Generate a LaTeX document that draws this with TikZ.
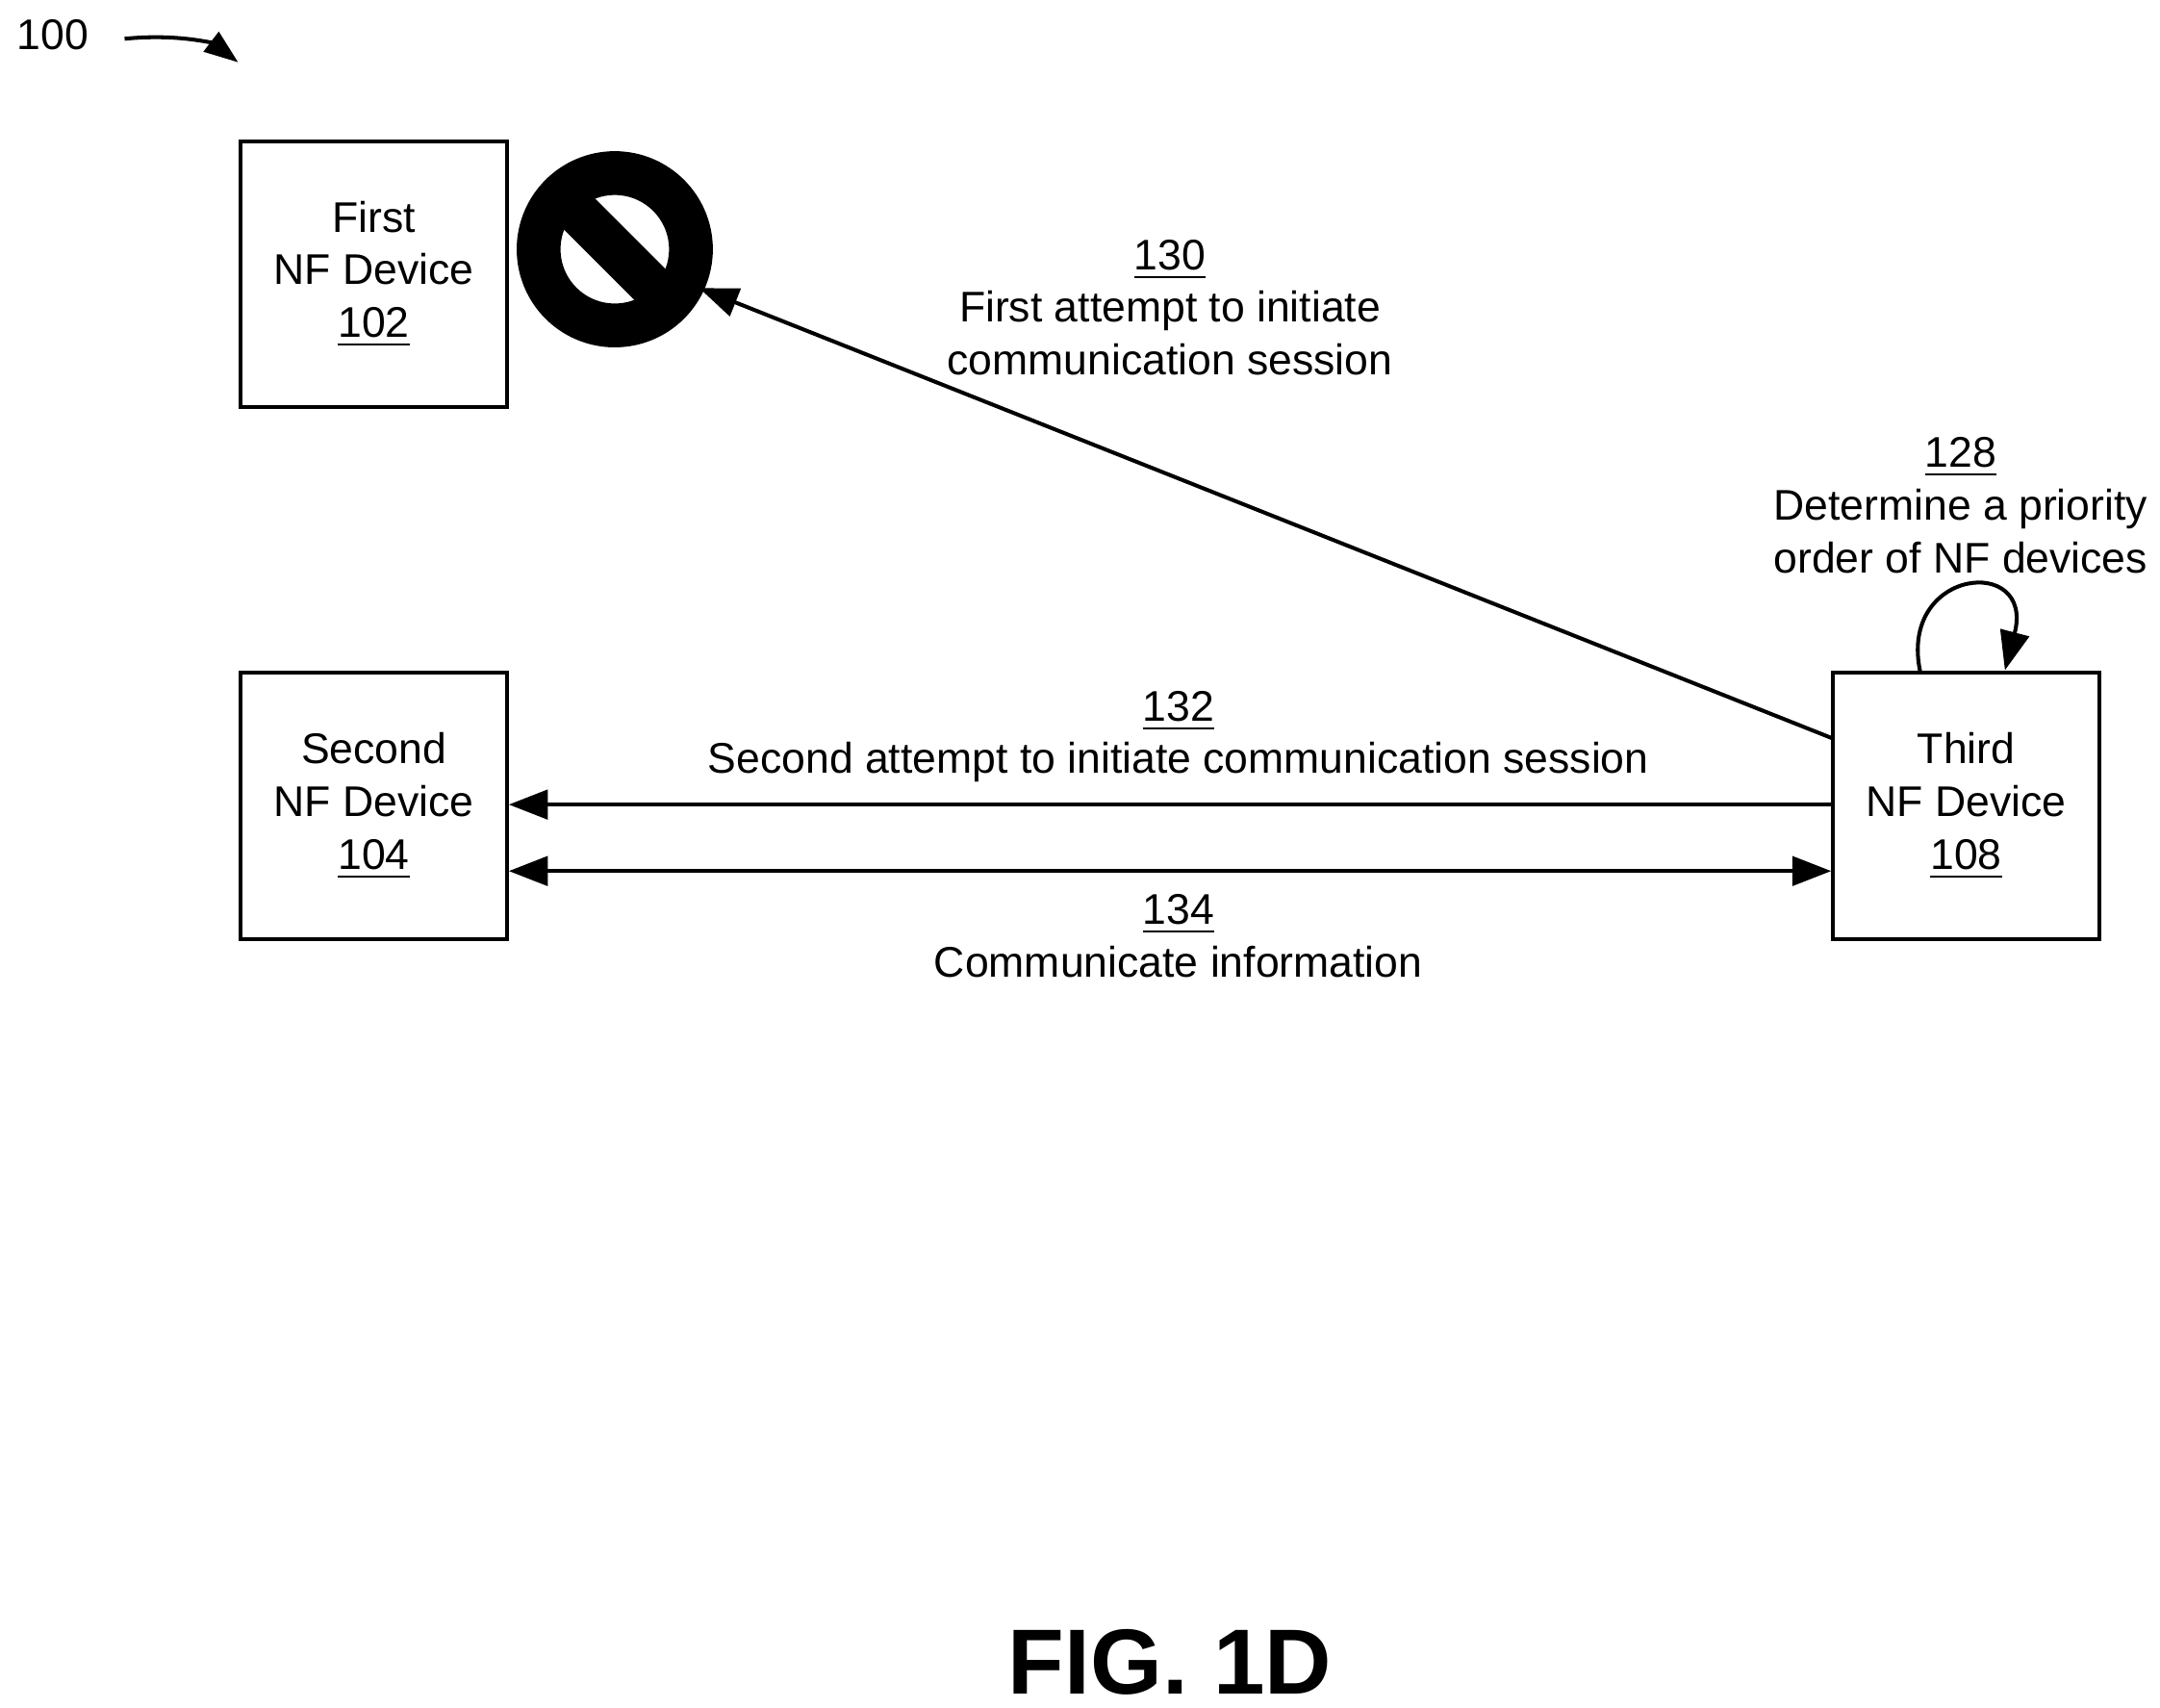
\documentclass[tikz,border=0pt]{standalone}
\usepackage{fontspec}
\setmainfont{Liberation Sans}
\usetikzlibrary{arrows.meta,calc}
\tikzset{
    nfbox/.style={draw, thick, minimum width=1.92cm, minimum height=1.92cm, align=center, inner sep=0pt},
    lbl/.style={align=center, font=\fontsize{8.8}{10.8}\selectfont},
    msg/.style={thick, -{Triangle[length=8pt, width=6pt]}}
}
\begin{document}
\begin{tikzpicture}[x=0.01cm, y=-0.01cm, every node/.style={font=\fontsize{8.8}{10.8}\selectfont}]
    \useasboundingbox (0,0) rectangle (1560,1233);
    % devices
    \node[nfbox] (first) at (270,198) {First\\NF Device\\\underline{102}};
    \node[nfbox] (second) at (270,582) {Second\\NF Device\\\underline{104}};
    \node[nfbox] (third) at (1420,582) {Third\\NF Device\\\underline{108}};
    % blocked sign
    \coordinate (block) at (444,180);
    \draw[line width=9pt] (block) circle (55);
    \draw[line width=9pt] ($(block)+(-39,-39)$) -- ($(block)+(39,39)$);
    \coordinate (blockend) at (505,208);
    \coordinate (thirdup) at (1323,533);
    % messages
    \draw[msg] (thirdup) -- (blockend);
    \node[lbl] at (845,222) {\underline{130}\\First attempt to initiate\\communication session};
    \draw[msg] (third.west |- 0,581) -- (second.east |- 0,581);
    \node[lbl] at (851,532) {\underline{132}\\Second attempt to initiate communication session};
    \draw[thick, {Triangle[length=8pt, width=6pt]}-{Triangle[length=8pt, width=6pt]}] (second.east |- 0,629) -- (third.west |- 0,629);
    \node[lbl] at (851,676) {\underline{134}\\Communicate information};
    % self loop
    \coordinate (loopa) at (1387,486);
    \coordinate (loopb) at (1448,484);
    \draw[msg] (loopa) .. controls (1370,410) and (1470,400) .. (loopb);
    \node[lbl] at (1416,365) {\underline{128}\\Determine a priority\\order of NF devices};
    % figure ref
    \node (ref) at (38,25) {100};
    \coordinate (refend) at (172,45);
    \draw[thick, -{Triangle[length=7pt, width=5pt]}] (90,28) .. controls (130,24) and (155,32) .. (refend);
    \node[font=\bfseries\fontsize{19}{22}\selectfont] (fig) at (845,1200) {FIG. 1D};
\end{tikzpicture}
\end{document}
